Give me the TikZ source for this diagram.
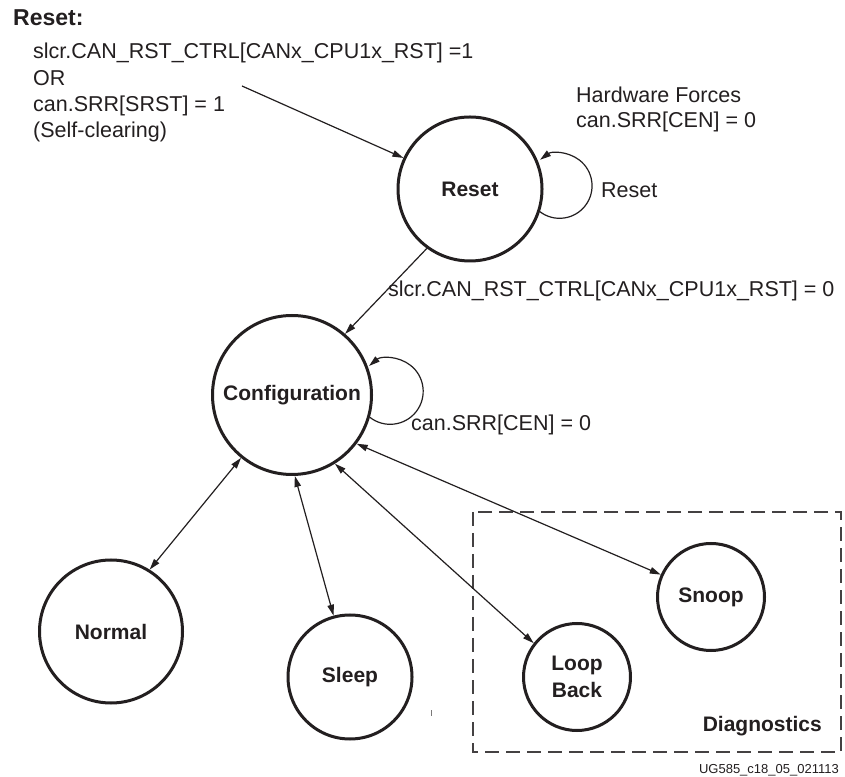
\documentclass[tikz,border=0pt]{standalone}
\usepackage{fontspec}
\setmainfont{Liberation Sans}
\usetikzlibrary{arrows.meta}
\definecolor{ink}{HTML}{231F20}
\tikzset{
  st/.style={circle, draw=ink, line width=3pt, inner sep=0pt, text=ink,
             font=\bfseries\fontsize{21}{27}\selectfont, align=center},
  lbl/.style={anchor=base west, inner sep=0pt, text=ink,
             font=\fontsize{21.5}{26}\selectfont},
  conn/.style={draw=ink, line width=1.2pt, -{Triangle[length=11pt,width=6.5pt]}},
  dconn/.style={draw=ink, line width=1.2pt, {Triangle[length=11pt,width=6.5pt]}-{Triangle[length=11pt,width=6.5pt]}},
}
\begin{document}
\begin{tikzpicture}[x=1pt,y=1pt]
\useasboundingbox[fill=white] (0,0) rectangle (845,776);

% states
\node[st, minimum size=144pt] (reset)  at (470,587)   {Reset};
\node[st, minimum size=159pt] (config) at (292,381)   {Configuration};
\node[st, minimum size=143pt] (normal) at (111,144.5) {Normal};
\node[st, minimum size=124pt] (sleep)  at (350,99)    {Sleep};
\node[st, minimum size=107pt] (loop)   at (577,99)    {Loop\\Back};
\node[st, minimum size=107pt] (snoop)  at (711,179)   {Snoop};

% diagnostics box
\draw[ink!85, line width=1.3pt, dash pattern=on 14pt off 7pt] (473,264) rectangle (841,24);
\node[anchor=base east, inner sep=0pt, text=ink, font=\bfseries\fontsize{21}{26}\selectfont] (diag) at (822,45) {Diagnostics};

% header and texts
\node[anchor=base west, inner sep=0pt, text=ink, font=\bfseries\fontsize{23}{28}\selectfont] (hdr) at (13,750) {Reset:};
\node[lbl] (t1) at (33,717)   {slcr.CAN\_RST\_CTRL[CANx\_CPU1x\_RST] =1};
\node[lbl] (t2) at (33,690.5) {OR};
\node[lbl] (t3) at (33,664)   {can.SRR[SRST] = 1};
\node[lbl] (t4) at (33,638)   {(Self-clearing)};

\node[lbl] (hw1) at (576,673.3) {Hardware Forces};
\node[lbl] (hw2) at (576,648)   {can.SRR[CEN] = 0};
\node[lbl] (rl)  at (601,578)   {Reset};
\node[lbl] (rc)  at (388,479)   {slcr.CAN\_RST\_CTRL[CANx\_CPU1x\_RST] = 0};
\node[lbl] (cl)  at (411,345)   {can.SRR[CEN] = 0};

\node[anchor=base east, inner sep=0pt, text=ink, font=\fontsize{13}{15}\selectfont] (ug) at (839,3) {UG585\_c18\_05\_021113};

% connectors
\coordinate (init) at (242,690);
\draw[conn] (init) -- (reset.155.7);
\draw[conn] (reset.-126.9) -- (config.49.7);
\draw[conn] (reset.-18.9) arc[start angle=232.8, end angle=486.8, radius=32.5pt];
\draw[conn] (config.-16.3) arc[start angle=232, end angle=489.8, radius=33pt];

\draw[dconn] (config.231.2) -- (normal.58);
\draw[dconn] (config.-88.6) -- (sleep.105.5);
\draw[dconn] (config.-58.3) -- (loop.142.7);
\draw[dconn] (config.-37.9) -- (snoop.156.7);

% small stray tick
\draw[ink!60, line width=0.8pt] (431,66) -- (431,60);
\end{tikzpicture}
\end{document}
